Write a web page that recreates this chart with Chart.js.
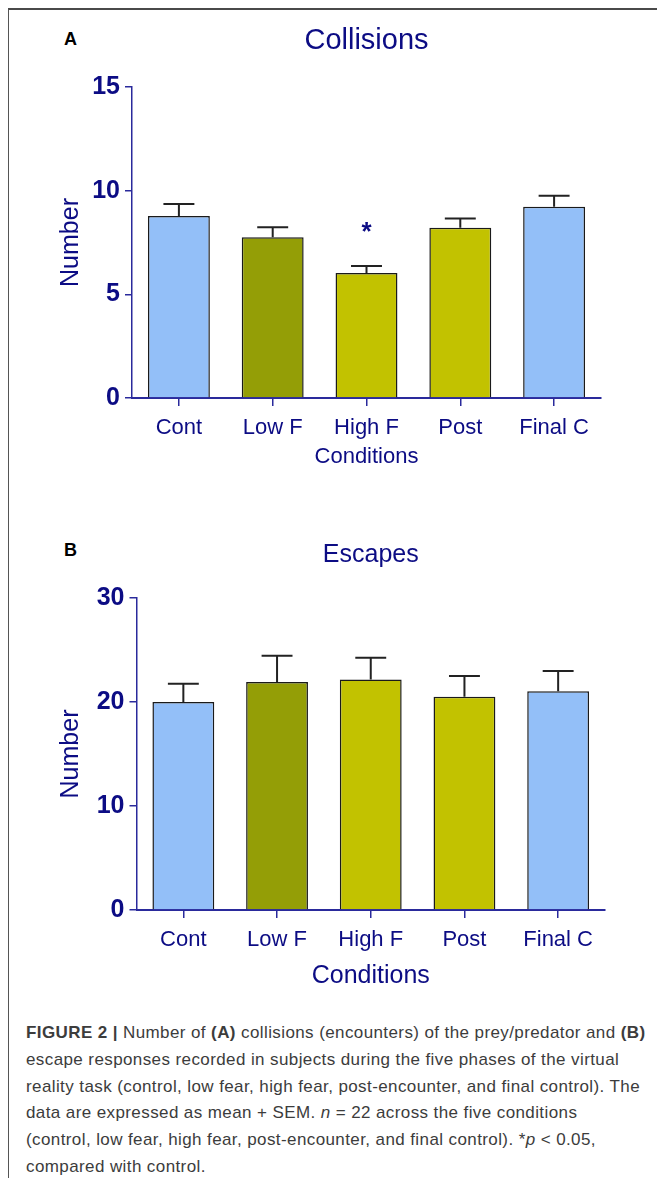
<!DOCTYPE html>
<html>
<head>
<meta charset="utf-8">
<script src="https://cdn.jsdelivr.net/npm/chart.js@4.4.1/dist/chart.umd.min.js"></script>
<style>
  body { margin: 0; background: #fff; width: 657px; height: 1178px; position: relative; overflow: hidden;
         font-family: 'Liberation Sans', Arial, sans-serif; }
  .frame { position: absolute; left: 8px; top: 8px; width: 700px; height: 1200px;
           border-left: 1.5px solid #555; border-top: 2px solid #4a4a4a; }
  .panel { position: absolute; left: 64px; font-weight: bold; font-size: 18px; color: #000; line-height: 1; }
  .box { position: absolute; left: 0; }
  .caption { position: absolute; left: 26px; top: 1020px; font-size: 17px; letter-spacing: 0.4px;
             line-height: 26.8px; color: #3c3c3c; white-space: nowrap; }
</style>
</head>
<body>
<div class="frame"></div>
<div class="panel" style="top:30px">A</div>
<div class="panel" style="top:541px">B</div>
<div class="box" style="top:0"><canvas id="collisions" width="657" height="480"></canvas></div>
<div class="box" style="top:500px"><canvas id="escapes" width="657" height="500"></canvas></div>
<div class="caption">
  <b>FIGURE 2 |</b> Number of <b>(A)</b> collisions (encounters) of the prey/predator and <b>(B)</b><br>
  escape responses recorded in subjects during the five phases of the virtual<br>
  reality task (control, low fear, high fear, post-encounter, and final control). The<br>
  data are expressed as mean + SEM. <i>n</i> = 22 across the five conditions<br>
  (control, low fear, high fear, post-encounter, and final control). *<i>p</i> &lt; 0.05,<br>
  compared with control.
</div>
<script>
// --- data ---
const conditions = ['Cont', 'Low F', 'High F', 'Post', 'Final C'];
const collisionMeans = [8.78, 7.75, 6.03, 8.21, 9.23];
const collisionSem = [0.58, 0.48, 0.34, 0.45, 0.53];
const collisionSig = ['', '', '*', '', ''];
const collisionTicks = [0, 5, 10, 15];
const escapeMeans = [20.0, 21.92, 22.17, 20.5, 21.03];
const escapeSem = [1.76, 2.53, 2.09, 2.0, 1.95];
const escapeSig = ['', '', '', '', ''];
const escapeTicks = [0, 10, 20, 30];
const barColors = ['#93bff8', '#949e06', '#c2c200', '#c2c200', '#93bff8'];

const NAVY = '#0c0c84';
const AXIS = '#2a2a9c';
Chart.defaults.font.family = "'Liberation Sans', Arial, sans-serif";

// draws the "+ SEM" whiskers and the significance marks
const errorBars = {
    id: 'errorBars',
    afterDatasetsDraw(chart, args, opts) {
        const ctx = chart.ctx;
        const y = chart.scales.y;
        const meta = chart.getDatasetMeta(0);
        ctx.save();
        meta.data.forEach((bar, i) => {
            const top = y.getPixelForValue(opts.means[i] + opts.sems[i]);
            const base = y.getPixelForValue(opts.means[i]);
            const half = bar.width / 4;
            ctx.strokeStyle = '#222';
            ctx.lineWidth = 2;
            ctx.beginPath();
            ctx.moveTo(bar.x, base);
            ctx.lineTo(bar.x, top);
            ctx.moveTo(bar.x - half, top);
            ctx.lineTo(bar.x + half, top);
            ctx.stroke();
            if (opts.sig[i]) {
                ctx.fillStyle = NAVY;
                ctx.font = 'bold 26px ' + Chart.defaults.font.family;
                ctx.textAlign = 'center';
                ctx.textBaseline = 'middle';
                ctx.fillText(opts.sig[i], bar.x, top - 33);
            }
        });
        ctx.restore();
    }
};

function makeChart(id, cfg) {
    const ctx = document.getElementById(id).getContext('2d');
    return new Chart(ctx, {
        type: 'bar',
        data: {
            labels: conditions,
            datasets: [{
                data: cfg.means,
                backgroundColor: barColors,
                borderColor: '#1a1a1a',
                borderWidth: 1.5,
                barPercentage: 0.66,
                categoryPercentage: 1.0
            }]
        },
        options: {
            responsive: false,
            animation: false,
            layout: { padding: { left: 0, right: cfg.right, top: 0, bottom: 0 } },
            plugins: {
                legend: { display: false },
                tooltip: { enabled: false },
                title: {
                    display: true,
                    text: cfg.title,
                    color: NAVY,
                    fullSize: false,
                    font: { size: cfg.titleSize, weight: 'normal' },
                    padding: cfg.titlePad
                },
                errorBars: { means: cfg.means, sems: cfg.sems, sig: cfg.sig }
            },
            scales: {
                x: {
                    afterFit: s => { s.height = cfg.xHeight; },
                    grid: { display: true, offset: false, drawOnChartArea: false, drawTicks: true,
                            tickLength: 8, color: AXIS, lineWidth: 1.5 },
                    border: { display: true, color: AXIS, width: 2 },
                    ticks: { color: NAVY, font: { size: 22 }, padding: 9 },
                    title: { display: true, text: 'Conditions', color: NAVY,
                             font: { size: cfg.xTitleSize }, padding: { top: 0, bottom: cfg.xTitlePad } }
                },
                y: {
                    min: 0,
                    max: cfg.ticks[cfg.ticks.length - 1],
                    afterFit: s => { s.width = cfg.yWidth; },
                    afterBuildTicks: s => { s.ticks = cfg.ticks.map(v => ({ value: v })); },
                    grid: { display: true, drawOnChartArea: false, drawTicks: true,
                            tickLength: 7, color: AXIS, lineWidth: 1.5 },
                    border: { display: true, color: AXIS, width: 1.5 },
                    ticks: { color: NAVY, font: { size: 25, weight: 'bold' }, padding: 5 },
                    title: { display: true, text: 'Number', color: NAVY,
                             font: { size: 25 }, padding: { top: 56, bottom: 0 } }
                }
            }
        },
        plugins: [errorBars]
    });
}

makeChart('collisions', {
    title: 'Collisions', titleSize: 29, titlePad: { top: 23.6, bottom: 28.6 },
    means: collisionMeans, sems: collisionSem, sig: collisionSig, ticks: collisionTicks,
    right: 56, xHeight: 82, xTitleSize: 22, xTitlePad: 10, yWidth: 132
});

makeChart('escapes', {
    title: 'Escapes', titleSize: 25, titlePad: { top: 40, bottom: 28 },
    means: escapeMeans, sems: escapeSem, sig: escapeSig, ticks: escapeTicks,
    right: 52, xHeight: 90, xTitleSize: 25, xTitlePad: 9, yWidth: 136.5
});
</script>
</body>
</html>
